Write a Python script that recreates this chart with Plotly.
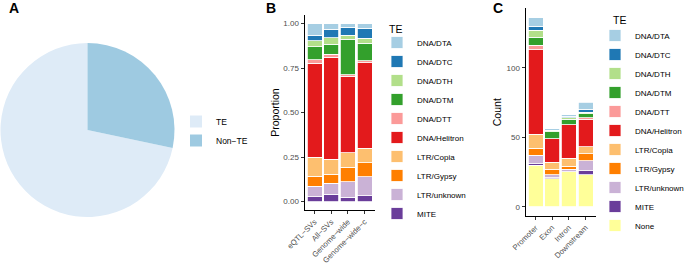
import plotly.graph_objects as go

# ---------------- data ----------------
pie_labels = ["TE", "Non−TE"]
pie_values = [71.7, 28.3]
pie_colors = ["#DEEBF7", "#9ECAE1"]

te_types = ["None", "MITE", "LTR/unknown", "LTR/Gypsy", "LTR/Copia", "DNA/Helitron",
            "DNA/DTT", "DNA/DTM", "DNA/DTH", "DNA/DTC", "DNA/DTA"]
te_colors = ["#FFFF99", "#6A3D9A", "#CAB2D6", "#FF7F00", "#FDBF6F", "#E31A1C",
             "#FB9A99", "#33A02C", "#B2DF8A", "#1F78B4", "#A6CEE3"]

# Panel B: proportions (order of te_types, without "None")
groups_b = ["eQTL−SVs", "All−SVs", "Genome−wide", "Genome−wide−c"]
b_eqtl = [0.027, 0.060, 0.056, 0.105, 0.528, 0.021, 0.073, 0.032, 0.031, 0.067]
b_all = [0.042, 0.060, 0.052, 0.083, 0.573, 0.016, 0.058, 0.037, 0.048, 0.031]
b_genome = [0.024, 0.087, 0.081, 0.082, 0.431, 0.006, 0.201, 0.023, 0.045, 0.020]
b_genome_c = [0.031, 0.108, 0.079, 0.082, 0.479, 0.012, 0.098, 0.027, 0.057, 0.027]

# Panel C: counts (order of te_types)
groups_c = ["Promoter", "Exon", "Intron", "Downstream"]
c_promoter = [30, 1, 6, 5, 10, 61, 3, 6, 5, 3, 6]
c_exon = [20, 1, 2, 4, 5, 17, 0, 5, 1, 0, 1]
c_intron = [25, 0, 2, 2, 6, 24, 0, 4, 1, 1, 1]
c_downstream = [23, 3, 7, 5, 5, 20, 1, 3, 1, 2, 5]

legend_title = "TE"

# ---------------- figure ----------------
W, H = 685, 264
FONT = "Liberation Sans, Arial, sans-serif"
fig = go.Figure()

# TE slice runs clockwise and ends at 12 o'clock, leaving Non-TE in the upper right
pie_start = 360 * pie_values[1] / sum(pie_values)
fig.add_trace(go.Pie(
    labels=pie_labels, values=pie_values, sort=False, direction="clockwise",
    rotation=pie_start, marker=dict(colors=pie_colors, line=dict(width=0)),
    textinfo="none", hoverinfo="label+value", legend="legend",
    domain=dict(x=[0.5 / W, 174.5 / W], y=[1 - 217 / H, 1 - 43 / H]),
))

b_rows = [b_eqtl, b_all, b_genome, b_genome_c]
for i, name in enumerate(te_types[1:]):
    fig.add_trace(go.Bar(
        x=groups_b, y=[row[i] for row in b_rows], name=name,
        marker=dict(color=te_colors[i + 1], line=dict(color="white", width=0.8)),
        width=0.9, xaxis="x", yaxis="y", legend="legend2",
    ))

c_rows = [c_promoter, c_exon, c_intron, c_downstream]
for i, name in enumerate(te_types):
    fig.add_trace(go.Bar(
        x=groups_c, y=[row[i] for row in c_rows], name=name,
        marker=dict(color=te_colors[i], line=dict(color="white", width=0.8)),
        width=0.9, xaxis="x2", yaxis="y2", legend="legend3",
    ))

axis_common = dict(
    showline=True, linecolor="black", linewidth=1, ticks="outside", ticklen=3,
    tickcolor="#333333", showgrid=False, zeroline=False, automargin=False,
)
ytick_font = dict(family=FONT, size=8, color="#4D4D4D")
xtick_font = dict(family=FONT, size=7.7, color="#4D4D4D")

legend_common = dict(
    font=dict(family=FONT, size=8, color="black"), bgcolor="rgba(0,0,0,0)",
    traceorder="reversed", itemwidth=30, xanchor="left", yanchor="top",
)


def label(text, x, y, size, anchor="center"):
    return dict(text=text, x=x / W, y=1 - y / H, xref="paper", yref="paper",
                showarrow=False, font=dict(family=FONT, size=size, color="black"),
                xanchor=anchor, yanchor="middle")


fig.update_layout(
    width=W, height=H, margin=dict(l=0, r=0, t=0, b=0, autoexpand=False),
    paper_bgcolor="white", plot_bgcolor="white", barmode="stack",
    font=dict(family=FONT, color="black"),
    xaxis=dict(domain=[304.5 / W, 374.5 / W], range=[-0.6, 3.6], tickangle=-45,
               anchor="y", tickfont=xtick_font, **axis_common),
    yaxis=dict(domain=[1 - 210.4 / H, 1 - 14.6 / H], range=[-0.05, 1.05],
               tickvals=[0, 0.25, 0.5, 0.75, 1.0], ticktext=["0.00", "0.25", "0.50", "0.75", "1.00"],
               title=dict(text="Proportion", font=dict(family=FONT, size=10.5), standoff=1),
               anchor="x", tickfont=ytick_font, **axis_common),
    xaxis2=dict(domain=[525.5 / W, 595.5 / W], range=[-0.6, 3.6], tickangle=-45,
                anchor="y2", tickfont=xtick_font, **axis_common),
    yaxis2=dict(domain=[1 - 216.2 / H, 1 - 8.2 / H], range=[-6.8, 142.8],
                tickvals=[0, 50, 100],
                title=dict(text="Count", font=dict(family=FONT, size=10.5), standoff=2),
                anchor="x2", tickfont=ytick_font, **axis_common),
    legend=dict(x=176 / W, y=1 - 107 / H, traceorder="normal", itemwidth=30,
                font=dict(family=FONT, size=8.5, color="black"), bgcolor="rgba(0,0,0,0)",
                xanchor="left", yanchor="top"),
    legend2=dict(x=377 / W, y=1 - 28 / H, **legend_common),
    legend3=dict(x=595 / W, y=1 - 21 / H, **legend_common),
    annotations=[
        label("<b>A</b>", 14, 8, 14),
        label("<b>B</b>", 271, 8, 14),
        label("<b>C</b>", 498, 8, 14),
        label(legend_title, 387, 29, 10.5, "left"),
        label(legend_title, 611, 20, 10.5, "left"),
    ],
)

fig.write_html("out.html", config={"displayModeBar": False},
               post_script="document.body.style.margin='0';")
